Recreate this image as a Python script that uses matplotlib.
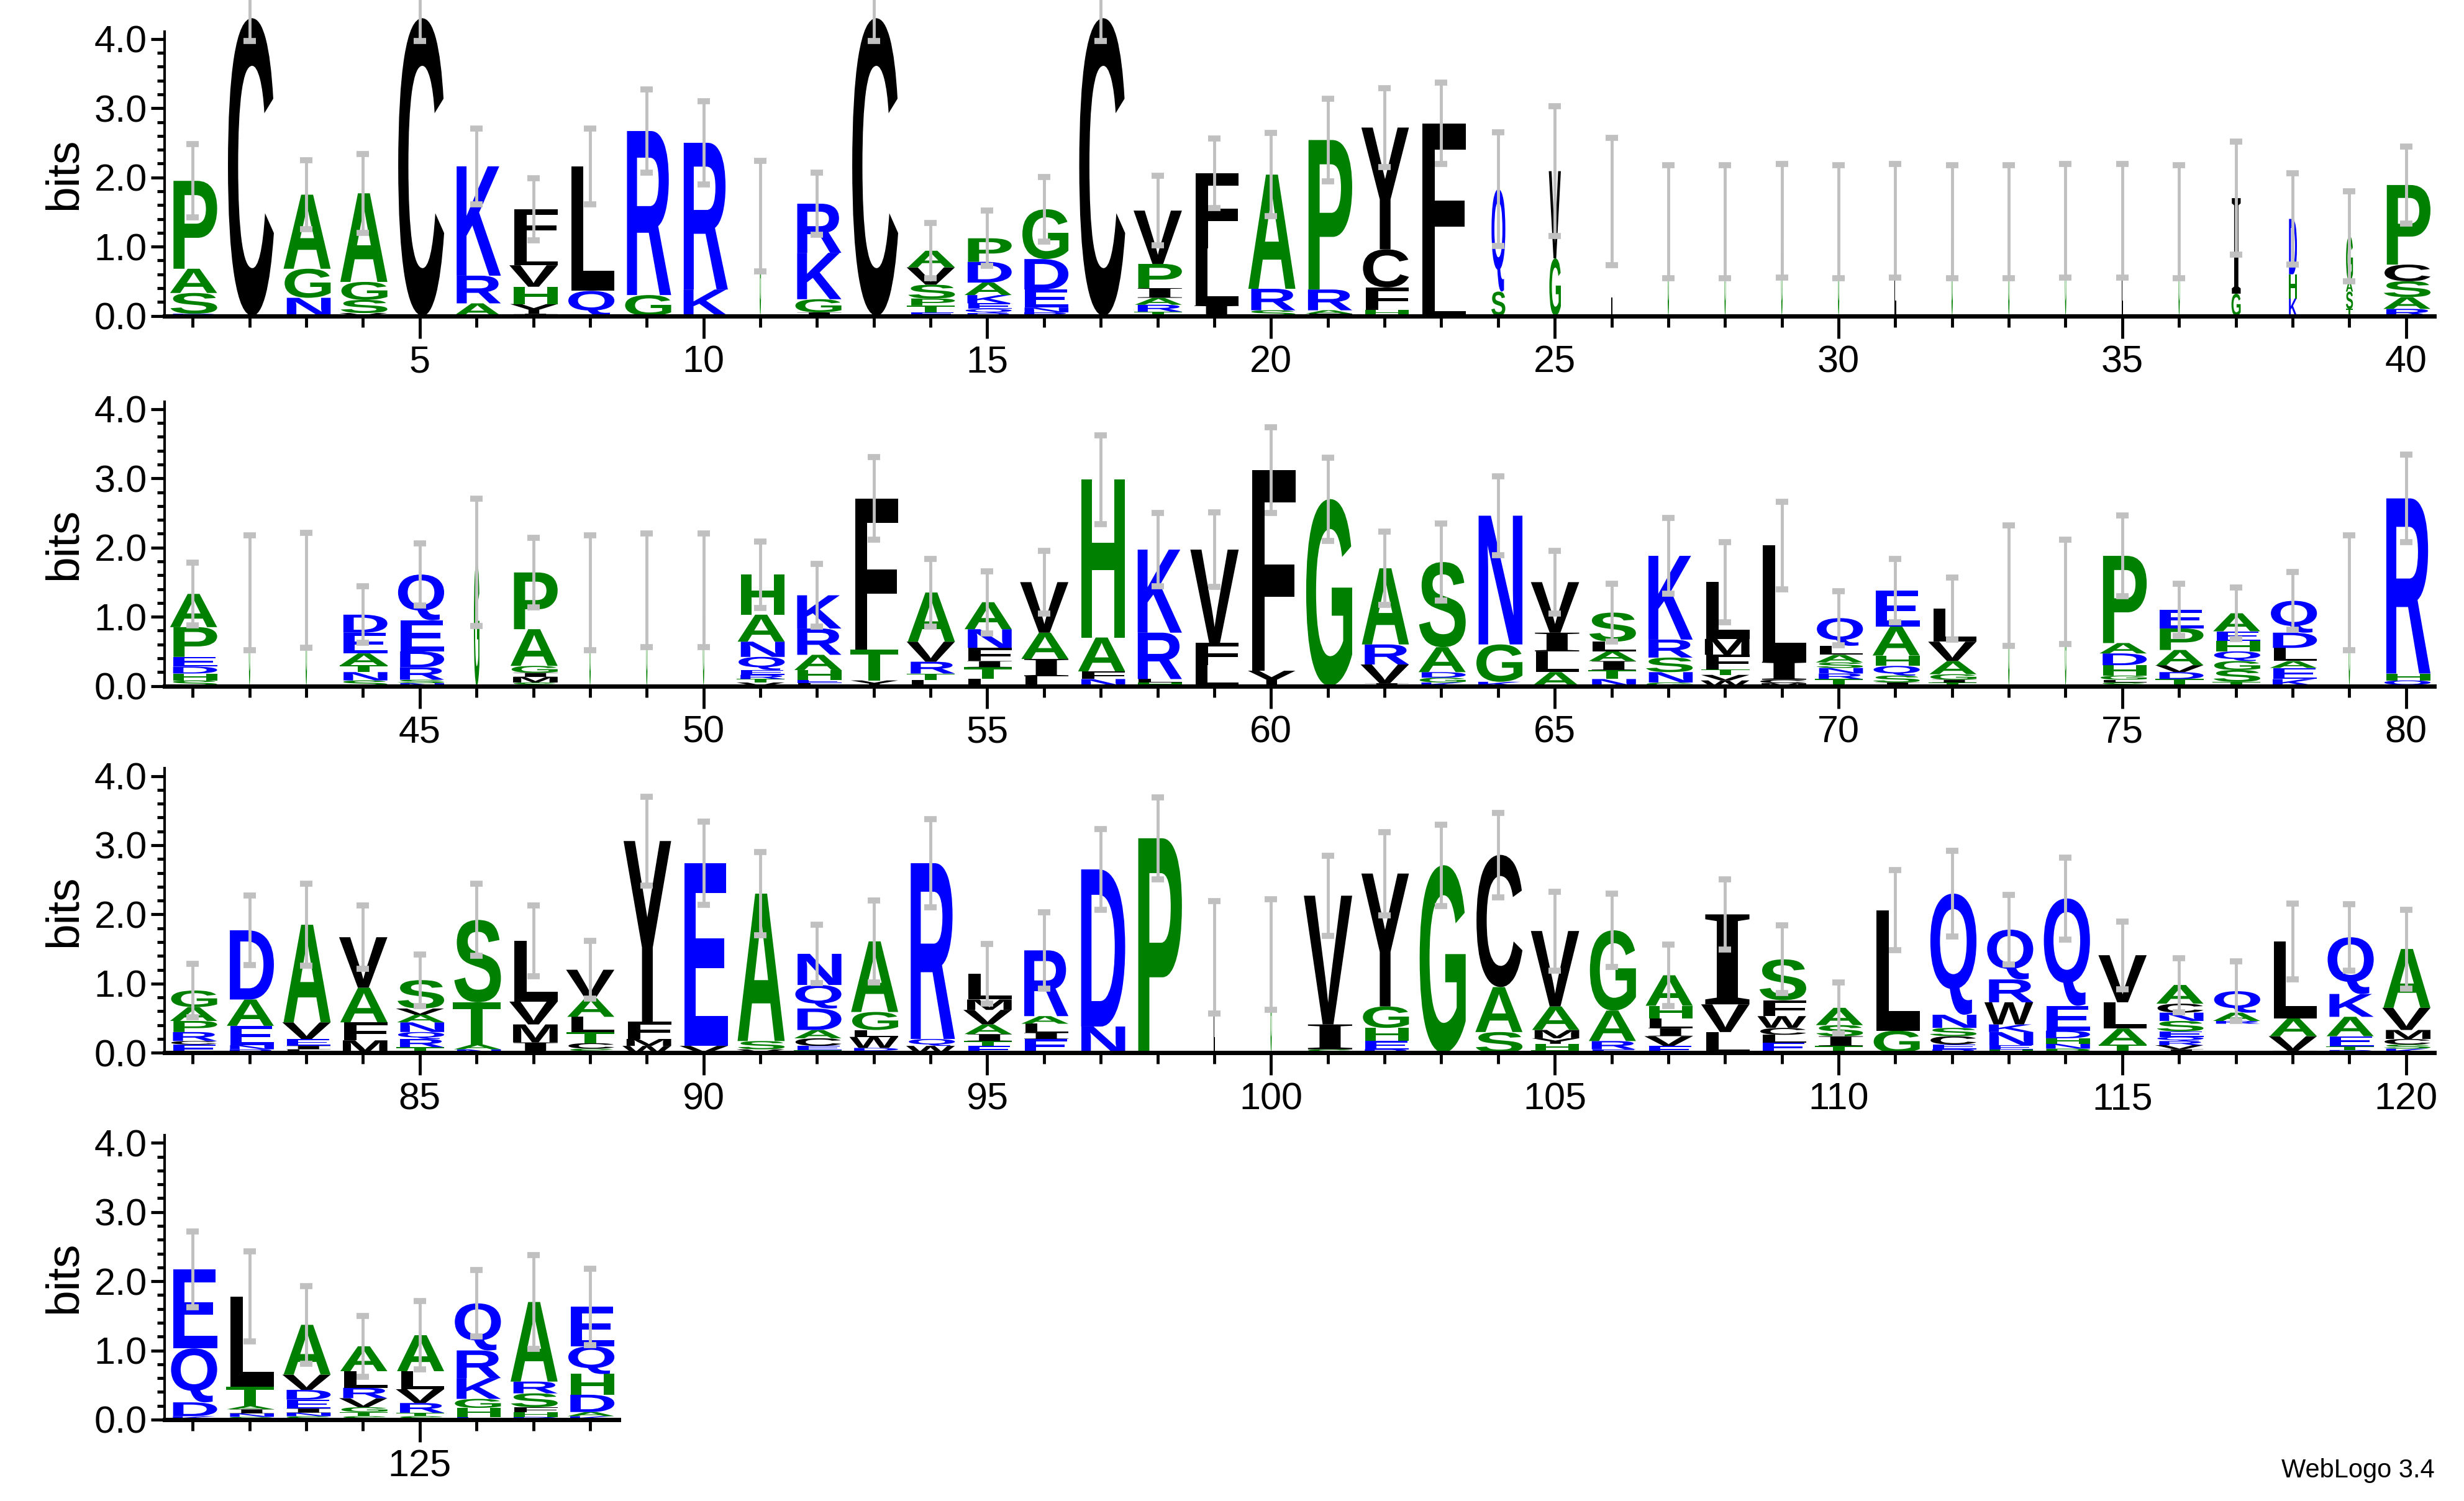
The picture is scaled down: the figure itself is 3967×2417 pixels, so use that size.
import matplotlib
matplotlib.use("Agg")
import matplotlib.pyplot as plt
from matplotlib.textpath import TextPath
from matplotlib.patches import PathPatch
from matplotlib.font_manager import FontProperties
from matplotlib.transforms import Affine2D
from matplotlib.ticker import MultipleLocator

# residues per position, bottom -> top, with their heights in bits
letters = [
    "RSAP", "C", "NGA", "VSGA", "C", "ARK", "IYHVLF", "QL", "GR", "KR",
    "G", "IGKR", "C", "ETPSVA", "RQEKADP", "RNEDG", "C", "TRAIPV", "ILF", "SRA",
    "FARP", "HFCY", "LF", "SQ", "GV", "L", "G", "G", "G", "G",
    "L", "G", "G", "G", "L", "G", "GI", "KHD", "TSAG", "RASCP",
    "SHDEPA", "G", "G", "SNTAED", "NSRDEQ", "G", "SMIGAP", "G", "G", "G",
    "VTREQNAH", "LEHARK", "YTF", "LTRVA", "LTIFNA", "LIAV", "NFAH", "HLRK", "LFV", "YF",
    "G", "IVRA", "KGDAS", "KGN", "ALIV", "NTIALS", "GNSRK", "WVTFML", "MCIL", "TRNSALQ",
    "ISQHAE", "TIGAVL", "G", "G", "SLGHDAP", "TDVAPE", "TSGQHEA", "KEALDQ", "G", "QHR",
    "ECRPAG", "RNEAD", "LIEVA", "MFAV", "TRQNAVS", "NATS", "IMVL", "SCTLAV", "WMFY", "VE",
    "VSA", "TECADQN", "MDWLGA", "WQR", "ETIAVML", "EILAR", "ND", "P", "L", "G",
    "SIV", "REHGY", "G", "SAC", "THYMAV", "ERAG", "EVILHA", "LVI", "ELCWFS", "TISA",
    "GL", "RECSNQ", "HENKWRQ", "PNHDEQ", "TALV", "IVRQESNCA", " RAQ", "IVAL", "RTEAKQ", "KSCMVA",
    "KDQE", "SNIATL", "SNIEDVA", "STGVRLA", "STRVLA", "EHGKRQ", "DHFSRA", "KADHQE",
]

heights = [
    [.03, .3, .35, 1.27], [4.3], [.26, .42, 1.07], [.04, .19, .26, 1.28], [4.3],
    [.18, .4, 1.58], [.03, .14, .25, .31, .32, .49], [.36, 1.8], [.3, 2.37], [.38, 2.12],
    [1.44], [.05, .19, .67, .71], [4.3], [.05, .1, .1, .2, .25, .24], [.04, .06, .08, .12, .18, .3, .34],
    [.05, .07, .26, .44, .72], [4.3], [.06, .1, .1, .14, .35, .77], [.15, .82, 1.09], [.08, .31, 1.65],
    [.03, .05, .3, 2.16], [.09, .32, .55, 1.76], [.42, 2.36], [.35, 1.48], [.83, 1.26],
    [1.65], [1.36], [1.36], [1.37], [1.36],
    [1.37], [1.36], [1.36], [1.37], [1.37], [1.36], [.32, 1.38], [.25, .35, .8], [.1, .25, .15, .65],
    [.1, .17, .23, .24, 1.15],
    [.08, .1, .1, .14, .43, .48], [1.35], [1.38], [.08, .12, .1, .17, .3, .26], [.04, .05, .18, .23, .45, .66],
    [1.79], [.05, .08, .06, .1, .53, .82], [1.35], [1.38], [1.38],
    [.05, .05, .06, .07, .19, .22, .39, .58], [.04, .05, .14, .22, .38, .48], [.08, .45, 2.18],
    [.09, .09, .17, .29, .71], [.1, .17, .09, .19, .27, .39], [.14, .25, .38, .73], [.1, .11, .49, 2.28],
    [.05, .05, .67, 1.2], [.3, .32, 1.35], [.22, 2.9],
    [2.7], [.04, .27, .29, 1.1], [.05, .07, .08, .36, 1.23], [.06, .54, 1.86], [.2, .3, .27, .73],
    [.1, .13, .13, .14, .14, .42], [.05, .15, .21, .26, 1.21], [.08, .08, .08, .21, .23, .82],
    [.04, .05, .26, 1.68], [.1, .08, .08, .08, .11, .13, .4],
    [.05, .1, .14, .15, .42, .52], [.05, .04, .08, .19, .28, .48], [1.45], [1.36],
    [.05, .04, .06, .15, .17, .15, 1.26], [.1, .1, .1, .22, .31, .27], [.06, .17, .13, .14, .15, .14, .26],
    [.1, .16, .1, .19, .22, .46], [1.35], [.08, .1, 2.53],
    [.12, .05, .13, .16, .2, .24], [.05, .06, .28, .38, 1.0], [.05, .05, .1, .24, 1.41], [.18, .26, .5, .73],
    [.08, .12, .1, .14, .11, .09, .41], [.05, .07, .61, 1.19], [.15, .26, .33, .88],
    [.06, .08, .16, .22, .27, .41], [.1, .1, .25, 2.61], [.1, 2.64],
    [.05, .12, 2.13], [.04, .06, .11, .12, .31, .34, .45], [.03, .04, .16, .1, .26, 1.02], [.1, .1, 2.54],
    [.1, .07, .1, .14, .21, .15, .37], [.2, .09, .13, .11, .95], [.38, 2.27], [3.1], [1.38], [1.42],
    [.05, .36, 1.86], [.05, .12, .19, .31, 1.92], [2.71], [.3, .65, 1.91], [.04, .09, .08, .12, .34, 1.09],
    [.05, .12, .44, 1.16], [.1, .14, .12, .14, .18, .44], [.3, .4, 1.3], [.15, .11, .1, .17, .23, .59],
    [.1, .14, .16, .25],
    [.32, 1.74], [.05, .07, .12, .12, .19, 1.75], [.05, .06, .19, .11, .32, .33, .72],
    [.06, .07, .08, .11, .36, 1.55], [.12, .23, .38, .68], [.05, .06, .06, .06, .08, .15, .12, .13, .27],
    [.42, .04, .12, .31], [.03, .21, .26, 1.11], [.04, .05, .15, .28, .33, .82], [.06, .06, .08, .13, .32, .85],
    [.05, .2, .78, 1.14], [.04, .05, .06, .05, .28, 1.3], [.05, .05, .06, .13, .14, .22, .72],
    [.05, .06, .07, .13, .15, .24, .36], [.05, .05, .14, .2, .26, .52], [.04, .13, .13, .3, .4, .68],
    [.04, .07, .07, .2, .17, 1.15], [.05, .06, .25, .3, .4, .57],
]

# half-length of the error bar at each position, bits
errors = [
    .53, .33, .5, .57, .33, .55, .45, .55, .6, .6,
    .8, .45, .33, .4, .4, .47, .33, .5, .5, .6,
    .6, .57, .59, .82, .94, .92, .82, .82, .82, .82,
    .82, .82, .82, .82, .82, .82, .82, .66, .65, .56,
    .45, .83, .83, .41, .45, .92, .5, .83, .82, .82,
    .48, .45, .6, .49, .45, .45, .64, .53, .54, .62,
    .6, .53, .56, .57, .45, .42, .55, .58, .63, .39,
    .46, .45, .87, .75, .58, .38, .37, .42, .83, .63,
    .39, .5, .59, .46, .37, .52, .51, .42, .64, .6,
    .6, .42, .59, .64, .43, .55, .58, .59, .81, .8,
    .58, .6, .59, .61, .57, .53, .44, .51, .49, .37,
    .58, .62, .5, .59, .49, .39, .43, .55, .48, .57,
    .55, .65, .56, .44, .49, .48, .68, .55,
]

# stack width (occupancy) for gappy columns; others are full width
widths = {11: .03, 24: .3, 25: .25, 26: .03, 37: .2, 38: .18, 39: .15,
          42: .03, 43: .03, 46: .12, 48: .03, 49: .03, 50: .03,
          73: .03, 74: .03, 79: .03, 99: .03, 100: .03}
for p in range(27, 37):
    widths[p] = .03

colors = {}
for c in "AGPSTH":
    colors[c] = "#008000"
for c in "KRQNDE":
    colors[c] = "#0000ff"
for c in "CFLVYIMW":
    colors[c] = "#000000"

bold = FontProperties(family="Liberation Sans", weight="bold")
serif = FontProperties(family="Liberation Serif", weight="bold")
_paths = {}


def glyph(ch):
    if ch not in _paths:
        fp = serif if ch == "I" else bold
        _paths[ch] = TextPath((0, 0), ch, size=1, prop=fp)
    return _paths[ch]


def draw_letter(ax, ch, x, y0, w, h):
    path = glyph(ch)
    v = path.vertices
    xmin, ymin = v.min(axis=0)
    xmax, ymax = v.max(axis=0)
    tr = (Affine2D().translate(-xmin, -ymin)
          .scale(w / (xmax - xmin), h / (ymax - ymin))
          .translate(x - w / 2, y0))
    patch = PathPatch(tr.transform_path(path), facecolor=colors[ch],
                      edgecolor="none", lw=0, clip_on=False)
    ax.add_patch(patch)


plt.rcParams['font.family'] = ['Liberation Sans Narrow', 'Liberation Sans', 'DejaVu Sans']
fig = plt.figure(figsize=(39.67, 24.17), dpi=100)

row_bottoms = [0.7896, 0.543, 0.2986, 0.0542]
left, full_w, h = 0.0667, 0.9213, 0.1895
npos = len(letters)

for r, bot in enumerate(row_bottoms):
    first = r * 40 + 1
    last = min(first + 39, npos)
    n = last - first + 1
    ax = fig.add_axes([left, bot, full_w * n / 40, h])
    ax.set_xlim(first - 0.5, last + 0.5)
    ax.set_ylim(0, 4.11)
    for pos in range(first, last + 1):
        i = pos - 1
        w = 0.86 * widths.get(pos, 1.0)
        y = 0.0
        for ch, hh in zip(letters[i], heights[i]):
            if ch != " ":
                draw_letter(ax, ch, pos, y, w, hh)
            y += hh
        ax.errorbar([pos], [y], yerr=[errors[i]], fmt="none", ecolor="#c0c0c0",
                    elinewidth=3.5, capsize=7, capthick=7, zorder=5, clip_on=False)
    for s in ["top", "right"]:
        ax.spines[s].set_visible(False)
    ax.spines["bottom"].set_linewidth(5)
    ax.spines["left"].set_linewidth(3)
    ax.yaxis.set_minor_locator(MultipleLocator(0.2))
    ax.set_yticks([0, 1, 2, 3, 4])
    ax.set_yticklabels(["0.0", "1.0", "2.0", "3.0", "4.0"])
    ax.tick_params(axis="y", which="major", length=16, width=3.5, labelsize=44, pad=4)
    ax.tick_params(axis="y", which="minor", length=9, width=3.5)
    majors = [p for p in range(first, last + 1) if p % 5 == 0]
    minors = [p for p in range(first, last + 1) if p % 5 != 0]
    ax.set_xticks(majors)
    ax.set_xticklabels([str(p) for p in majors])
    ax.set_xticks(minors, minor=True)
    ax.tick_params(axis="x", which="major", length=26, width=3.5, labelsize=44, pad=8)
    ax.tick_params(axis="x", which="minor", length=13, width=3.5)
    ax.set_ylabel("bits", fontsize=54, labelpad=10)

fig.text(0.988, 0.012, "WebLogo 3.4", ha="right", va="bottom", fontsize=30)
fig.savefig("out.png", dpi=100)
